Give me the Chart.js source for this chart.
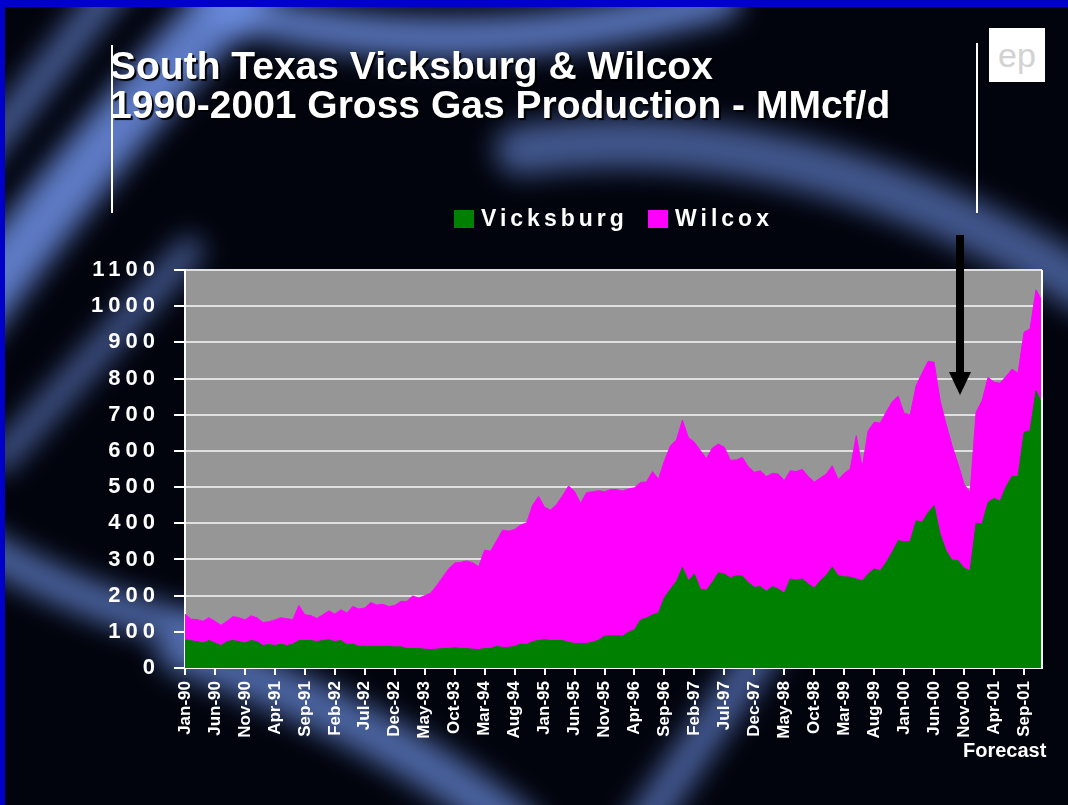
<!DOCTYPE html>
<html>
<head>
<meta charset="utf-8">
<script src="https://cdn.jsdelivr.net/npm/chart.js@4/dist/chart.umd.min.js"></script>
<style>
  body { margin: 0; width: 1068px; height: 805px; overflow: hidden; background: #000; font-family: 'Liberation Sans', Arial, sans-serif; }
  #bg, #chartWrap { position: absolute; left: 0; top: 0; }
  .title { position: absolute; left: 110px; color: #fff; font-weight: bold; font-size: 39px; line-height: 39px; white-space: nowrap; text-shadow: 2px 2px 1px #000; }
  .vline { position: absolute; width: 2px; background: #fff; }
  .legend { position: absolute; top: 205px; color: #fff; font-weight: bold; font-size: 23px; letter-spacing: 4px; line-height: 26px; white-space: nowrap; }
  .swatch { position: absolute; top: 210px; width: 20px; height: 18px; }
  .logo { position: absolute; left: 989px; top: 28px; width: 56px; height: 54px; background: #fff; color: #d2d2d2; font-size: 34px; line-height: 54px; text-align: center; overflow: hidden; }
  .forecast { position: absolute; left: 963px; top: 739px; color: #fff; font-weight: bold; font-size: 20px; white-space: nowrap; }
</style>
</head>
<body>
<canvas id="bg" width="1068" height="805"></canvas>

<div class="vline" style="left:111px; top:45px; height:168px;"></div>
<div class="vline" style="left:976px; top:43px; height:170px;"></div>
<div class="title" style="top:46px;">South Texas Vicksburg &amp; Wilcox</div>
<div class="title" style="top:85px;">1990-2001 Gross Gas Production - MMcf/d</div>
<div class="logo">ep</div>

<div class="swatch" style="left:454px; background:#008000;"></div>
<div class="legend" style="left:481px;">Vicksburg</div>
<div class="swatch" style="left:648px; background:#ff00ff;"></div>
<div class="legend" style="left:675px;">Wilcox</div>

<div id="chartWrap"><canvas id="chart" width="1068" height="805"></canvas></div>

<svg style="position:absolute; left:945px; top:233px;" width="30" height="165">
  <rect x="11" y="2" width="8" height="140" fill="#000"></rect>
  <polygon points="4,139 26,139 15,162" fill="#000"></polygon>
</svg>

<div class="forecast">Forecast</div>

<script>
// months Jan-90 .. Dec-01
const monthNames = ['Jan', 'Feb', 'Mar', 'Apr', 'May', 'Jun', 'Jul', 'Aug', 'Sep', 'Oct', 'Nov', 'Dec'];
const years = ['90', '91', '92', '93', '94', '95', '96', '97', '98', '99', '00', '01'];
const months = [];
years.forEach(y => monthNames.forEach(m => months.push(m + '-' + y)));

// MMcf/d
const vicksburg = [
  78, 75, 73, 69, 76, 69, 62, 73, 76, 73, 69, 76,
  73, 62, 65, 62, 66, 62, 66, 76, 76, 76, 73, 76,
  78, 73, 76, 65, 66, 60, 60, 60, 60, 60, 60, 58,
  59, 54, 54, 54, 52, 51, 52, 54, 54, 56, 54, 54,
  52, 51, 54, 54, 60, 57, 57, 60, 66, 65, 73, 76,
  78, 76, 76, 76, 71, 68, 68, 68, 71, 77, 88, 89,
  89, 88, 99, 106, 133, 138, 147, 152, 195, 218, 239, 278,
  241, 260, 218, 215, 237, 263, 260, 249, 255, 254, 236, 223,
  225, 212, 225, 218, 207, 246, 243, 246, 232, 221, 241, 256,
  279, 255, 252, 251, 246, 241, 260, 274, 269, 292, 320, 352,
  349, 350, 407, 403, 430, 449, 370, 324, 298, 297, 276, 269,
  400, 398, 458, 469, 461, 501, 530, 529, 651, 656, 766, 730
];
const wilcox = [
  71, 60, 61, 60, 63, 60, 56, 56, 66, 66, 64, 68,
  66, 64, 63, 71, 73, 74, 68, 97, 71, 69, 64, 71,
  80, 76, 85, 87, 104, 103, 106, 121, 114, 116, 110, 115,
  125, 130, 145, 139, 148, 156, 176, 197, 220, 234, 238, 242,
  239, 229, 272, 269, 292, 324, 321, 323, 329, 336, 377, 398,
  366, 361, 376, 400, 432, 420, 387, 417, 416, 413, 399, 404,
  404, 401, 396, 392, 380, 376, 396, 370, 378, 396, 391, 407,
  396, 364, 383, 364, 371, 356, 350, 325, 320, 328, 320, 318,
  320, 317, 313, 318, 311, 299, 300, 303, 297, 293, 284, 280,
  280, 266, 286, 299, 396, 314, 396, 405, 408, 415, 416, 399,
  355, 350, 373, 412, 418, 396, 369, 350, 316, 267, 232, 216,
  307, 341, 345, 321, 326, 305, 296, 286, 277, 281, 279, 285
];

const yTicks = [0, 1100, 100]; // min, max, step

const font = "'Liberation Sans', Arial, sans-serif";

// background swoosh
const bg = document.getElementById('bg').getContext('2d');
bg.fillStyle = '#02040d';
bg.fillRect(0, 0, 1068, 805);
const streaks = [
  [-40, 330, 90, 150, 250, -20, 60, 0.85],
  [-30, 170, 40, 80, 120, -20, 30, 0.65],
  [230, 10, 460, 70, 720, 0, 40, 0.8],
  [520, 150, 800, 110, 1090, 290, 50, 0.6],
  [-30, 540, 90, 610, 200, 630, 35, 0.7],
  [180, 650, 380, 720, 520, 830, 45, 0.7],
  [640, 830, 700, 740, 770, 640, 35, 0.65],
  [0, 460, 90, 360, 190, 250, 25, 0.65]
];
bg.filter = 'blur(14px)';
bg.lineCap = 'round';
streaks.forEach(s => {
  bg.strokeStyle = 'rgba(110,145,230,' + s[7] + ')';
  bg.lineWidth = s[6];
  bg.beginPath();
  bg.moveTo(s[0], s[1]);
  bg.quadraticCurveTo(s[2], s[3], s[4], s[5]);
  bg.stroke();
});
bg.filter = 'none';
bg.fillStyle = '#0000c8';
bg.fillRect(0, 0, 1068, 7);
bg.fillRect(0, 0, 5, 805);

// gray plot area, right border, spaced y labels
const plotPlugin = {
  id: 'plot',
  beforeDraw(chart) {
    const a = chart.chartArea;
    const ctx = chart.ctx;
    ctx.save();
    ctx.fillStyle = '#969696';
    ctx.fillRect(a.left, a.top, a.right - a.left, a.bottom - a.top);
    ctx.restore();
    const y = chart.scales.y;
    if (!y._spaced) {
      const orig = y.drawLabels.bind(y);
      y.drawLabels = function (area) {
        ctx.save();
        ctx.letterSpacing = '5px';
        orig(area);
        ctx.restore();
      };
      y._spaced = true;
    }
  },
  afterDatasetsDraw(chart) {
    const a = chart.chartArea;
    const ctx = chart.ctx;
    ctx.save();
    ctx.strokeStyle = '#ffffff';
    ctx.lineWidth = 2;
    ctx.beginPath();
    ctx.moveTo(a.right, a.top);
    ctx.lineTo(a.right, a.bottom);
    ctx.stroke();
    ctx.restore();
  }
};

const ctx = document.getElementById('chart').getContext('2d');
new Chart(ctx, {
  type: 'line',
  data: {
    labels: months,
    datasets: [{
      label: 'Vicksburg',
      data: vicksburg,
      fill: 'origin',
      backgroundColor: '#008000',
      borderColor: '#008000',
      borderWidth: 1,
      pointRadius: 0,
      tension: 0,
    }, {
      label: 'Wilcox',
      data: wilcox,
      fill: '-1',
      backgroundColor: '#ff00ff',
      borderColor: '#ff00ff',
      borderWidth: 1,
      pointRadius: 0,
      tension: 0,
    }],
  },
  options: {
    responsive: false,
    animation: false,
    layout: { padding: { top: 270, right: 26, left: 0, bottom: 0 } },
    plugins: {
      legend: { display: false },
      tooltip: { enabled: false },
    },
    scales: {
      x: {
        offset: false,
        afterFit: (s) => { s.height = 137; },
        grid: { display: true, drawOnChartArea: false, tickLength: 7, color: '#ffffff', lineWidth: 2 },
        border: { display: true, color: '#ffffff', width: 2 },
        ticks: {
          autoSkip: false,
          maxRotation: 90,
          minRotation: 90,
          padding: 6,
          color: '#ffffff',
          font: { family: font, size: 17, weight: 'bold' },
          callback: (v, i) => (i % 5 === 0 ? months[i] : null),
        },
      },
      y: {
        stacked: true,
        min: yTicks[0],
        max: yTicks[1],
        afterFit: (s) => { s.width = 185; },
        grid: { color: '#e0e0e0', lineWidth: 2, tickLength: 11, tickColor: '#ffffff' },
        border: { display: true, color: '#ffffff', width: 2 },
        ticks: {
          stepSize: yTicks[2],
          padding: 14,
          color: '#ffffff',
          font: { family: font, size: 22, weight: 'bold' },
          callback: (v) => String(v),
        },
      },
    },
  },
  plugins: [plotPlugin],
});
</script>
</body>
</html>
